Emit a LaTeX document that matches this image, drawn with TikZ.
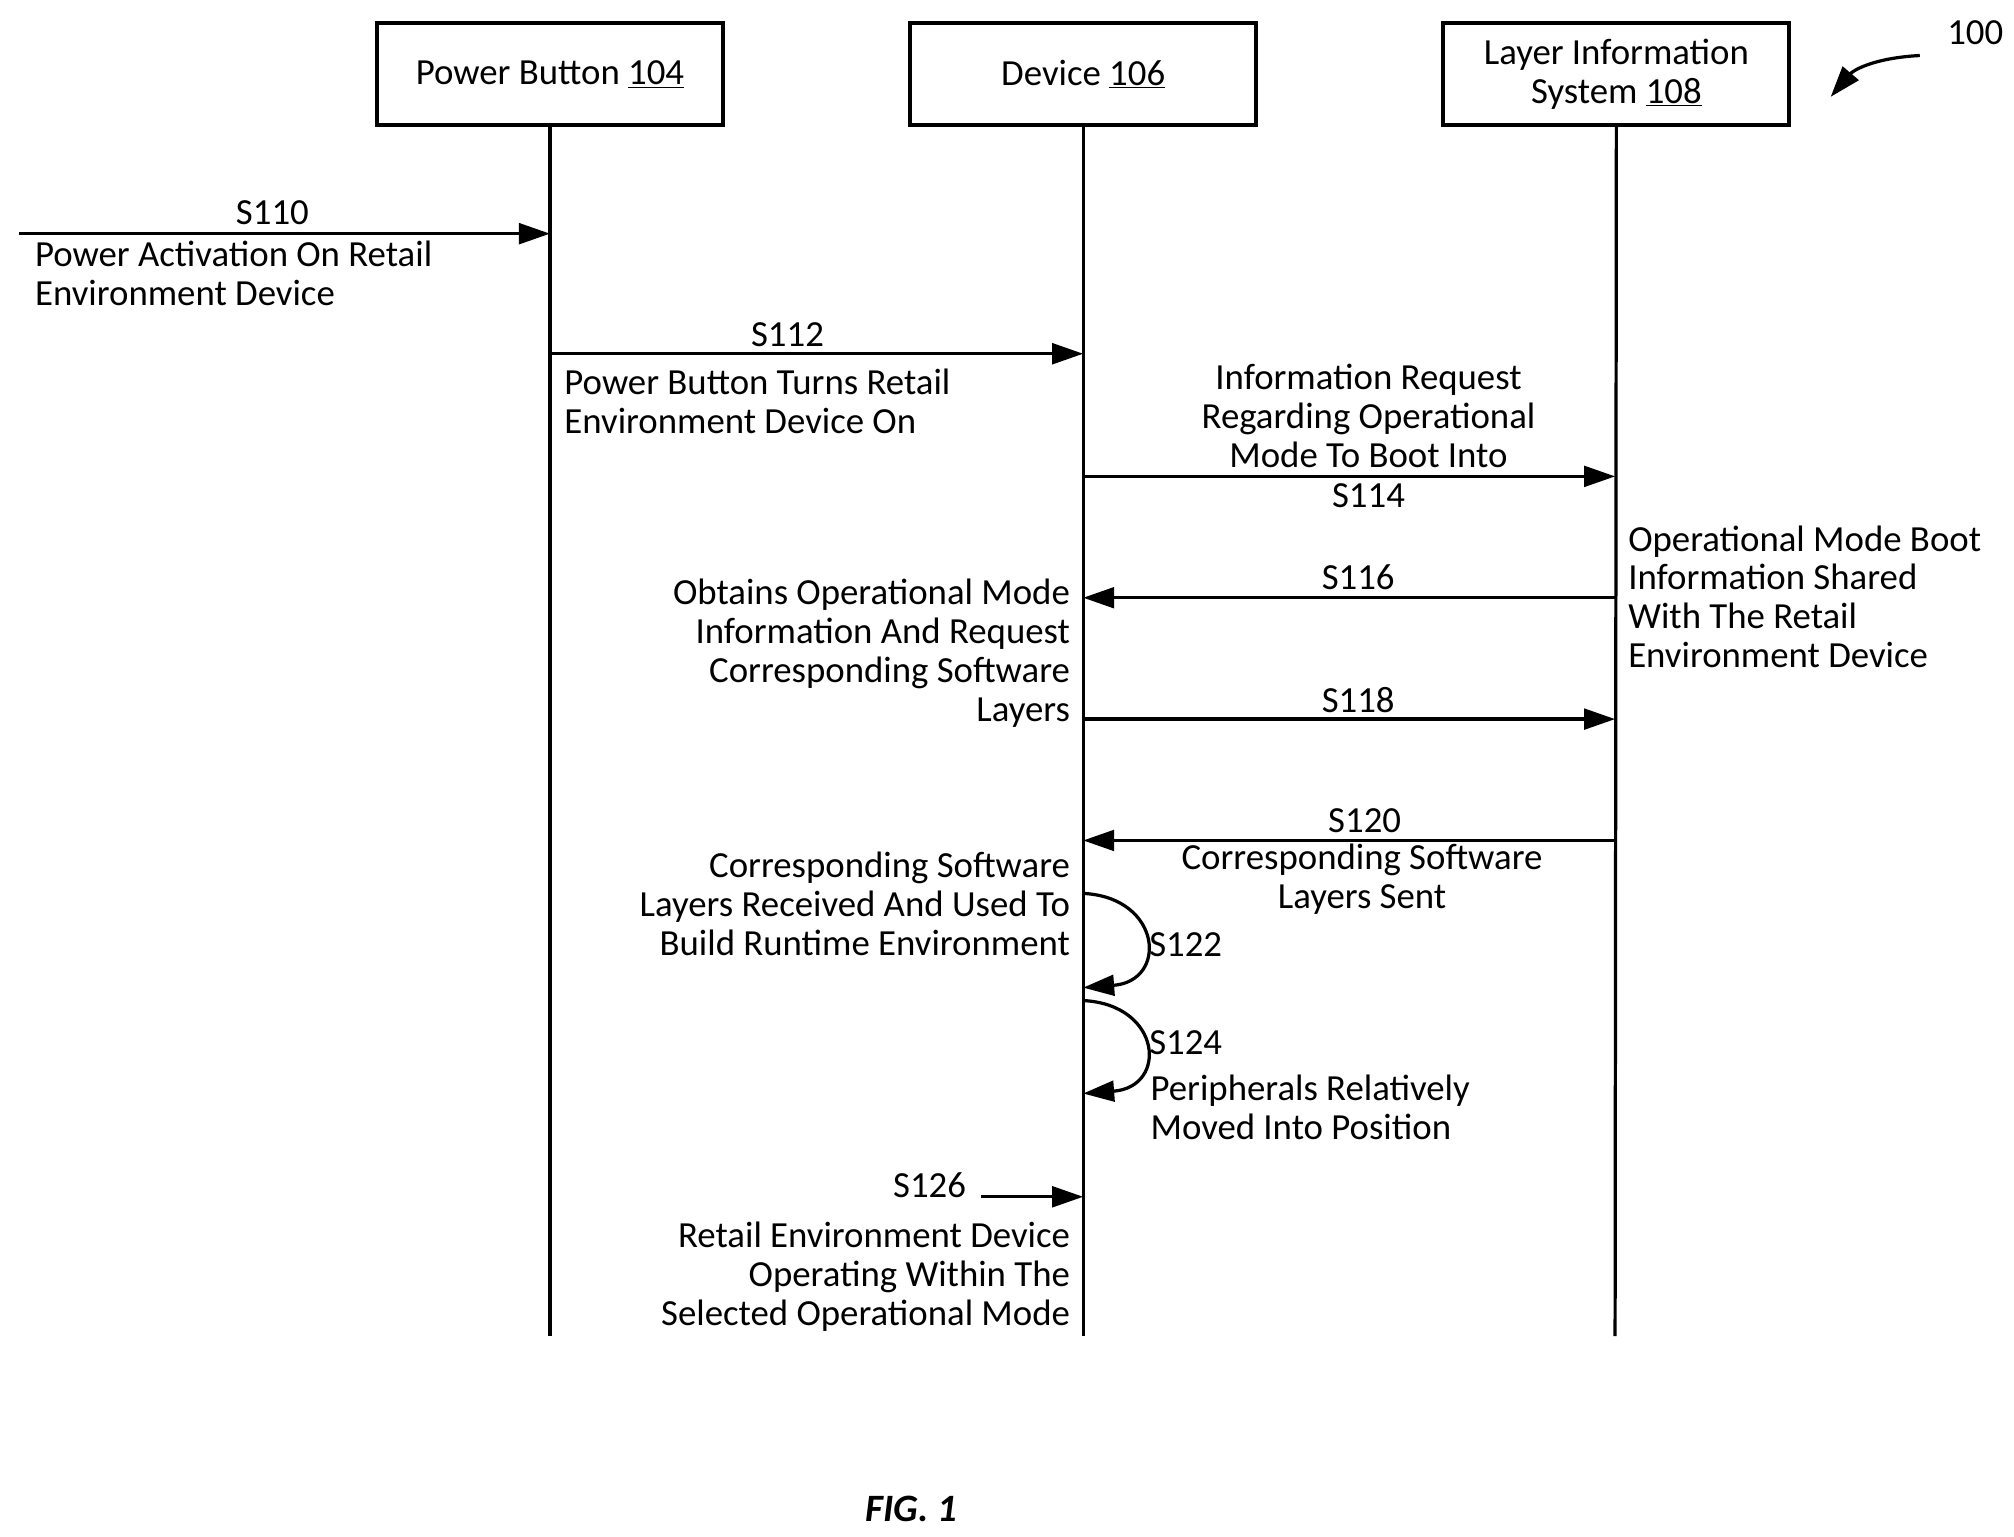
\documentclass[tikz,border=0pt]{standalone}
\usepackage{fontspec}
\setmainfont{Carlito}
\usetikzlibrary{arrows.meta}
\begin{document}
\begin{tikzpicture}[x=1pt,y=-1pt,
  txt/.style={font=\fontsize{28.5}{30}\selectfont,inner sep=0pt,align=center},
  box/.style={draw,line width=3pt,minimum width=268pt,minimum height=79pt,font=\fontsize{28.5}{30}\selectfont,align=center},
  life/.style={line width=2.5pt},
  msg/.style={line width=2.5pt,-{Triangle[length=24pt,width=16pt]}}]
\useasboundingbox (0,0) rectangle (1560,1190);
\node[box] (pb) at (426,57.5) {Power Button \underline{104}};
\node[box] (dv) at (839,57.5) {Device \underline{106}};
\node[box] (ls) at (1252,57.5) {Layer Information\\System \underline{108}};
\coordinate (pbE) at (426,1035);
\coordinate (dvE) at (839,1035);
\coordinate (lsE) at (1251,1035);
\draw[life] (pb.south) -- (pbE);
\draw[life] (dv.south) -- (dvE);
\draw[life] (ls.south) -- (lsE);
% S110
\coordinate (a0) at (15,181); \coordinate (a1) at (426,181);
\draw[msg] (a0) -- (a1);
\node[txt] (l110) at (211,165) {S110};
\node[txt,anchor=west,align=left] (t110) at (27,212) {Power Activation On Retail\\Environment Device};
% S112
\coordinate (b0) at (426,274); \coordinate (b1) at (839,274);
\draw[msg] (b0) -- (b1);
\node[txt] (l112) at (610,259) {S112};
\node[txt,anchor=west,align=left] (t112) at (437,311) {Power Button Turns Retail\\Environment Device On};
% S114
\coordinate (c0) at (839,369); \coordinate (c1) at (1251,369);
\draw[msg] (c0) -- (c1);
\node[txt] (t114) at (1060,322) {Information Request\\Regarding Operational\\Mode To Boot Into};
\node[txt] (l114) at (1060,384) {S114};
% S116
\coordinate (d0) at (1251,463); \coordinate (d1) at (839,463);
\draw[msg] (d0) -- (d1);
\node[txt] (l116) at (1052,447) {S116};
\node[txt,anchor=west,align=left] (t116r) at (1261,462) {Operational Mode Boot\\Information Shared\\With The Retail\\Environment Device};
\node[txt,anchor=east,align=right] (t116l) at (829,506) {Obtains Operational Mode\\Information And Request\\Corresponding Software\\Layers};
% S118
\coordinate (e0) at (839,557); \coordinate (e1) at (1251,557);
\draw[msg] (e0) -- (e1);
\node[txt] (l118) at (1052,542) {S118};
% S120
\coordinate (f0) at (1251,651); \coordinate (f1) at (839,651);
\draw[msg] (f0) -- (f1);
\node[txt] (l120) at (1057,636) {S120};
\node[txt] (t120) at (1055,681) {Corresponding Software\\Layers Sent};
\node[txt,anchor=east,align=right] (t122) at (829,700) {Corresponding Software\\Layers Received And Used To\\Build Runtime Environment};
% S122
\coordinate (g0) at (839,692); \coordinate (g1) at (839,765);
\draw[msg] (g0) .. controls (900,695) and (905,760) .. (g1);
\node[txt,anchor=west] (l122) at (890,732) {S122};
% S124
\coordinate (h0) at (839,775); \coordinate (h1) at (839,847);
\draw[msg] (h0) .. controls (900,778) and (905,842) .. (h1);
\node[txt,anchor=west] (l124) at (890,808) {S124};
\node[txt,anchor=west,align=left] (t124) at (891,858) {Peripherals Relatively\\Moved Into Position};
% S126
\coordinate (k0) at (760,927); \coordinate (k1) at (839,927);
\draw[msg] (k0) -- (k1);
\node[txt] (l126) at (720,918) {S126};
\node[txt,anchor=east,align=right] (t126) at (829,989) {Retail Environment Device\\Operating Within The\\Selected Operational Mode};
% 100
\node[txt] (n100) at (1530,25) {100};
\coordinate (m0) at (1487,43); \coordinate (m1) at (1418,75);
\draw[msg] (m0) .. controls (1450,45) and (1435,55) .. (m1);
\node[txt,font=\fontsize{30}{30}\selectfont\bfseries\itshape] (fig) at (706,1169) {FIG. 1};
\end{tikzpicture}
\end{document}
